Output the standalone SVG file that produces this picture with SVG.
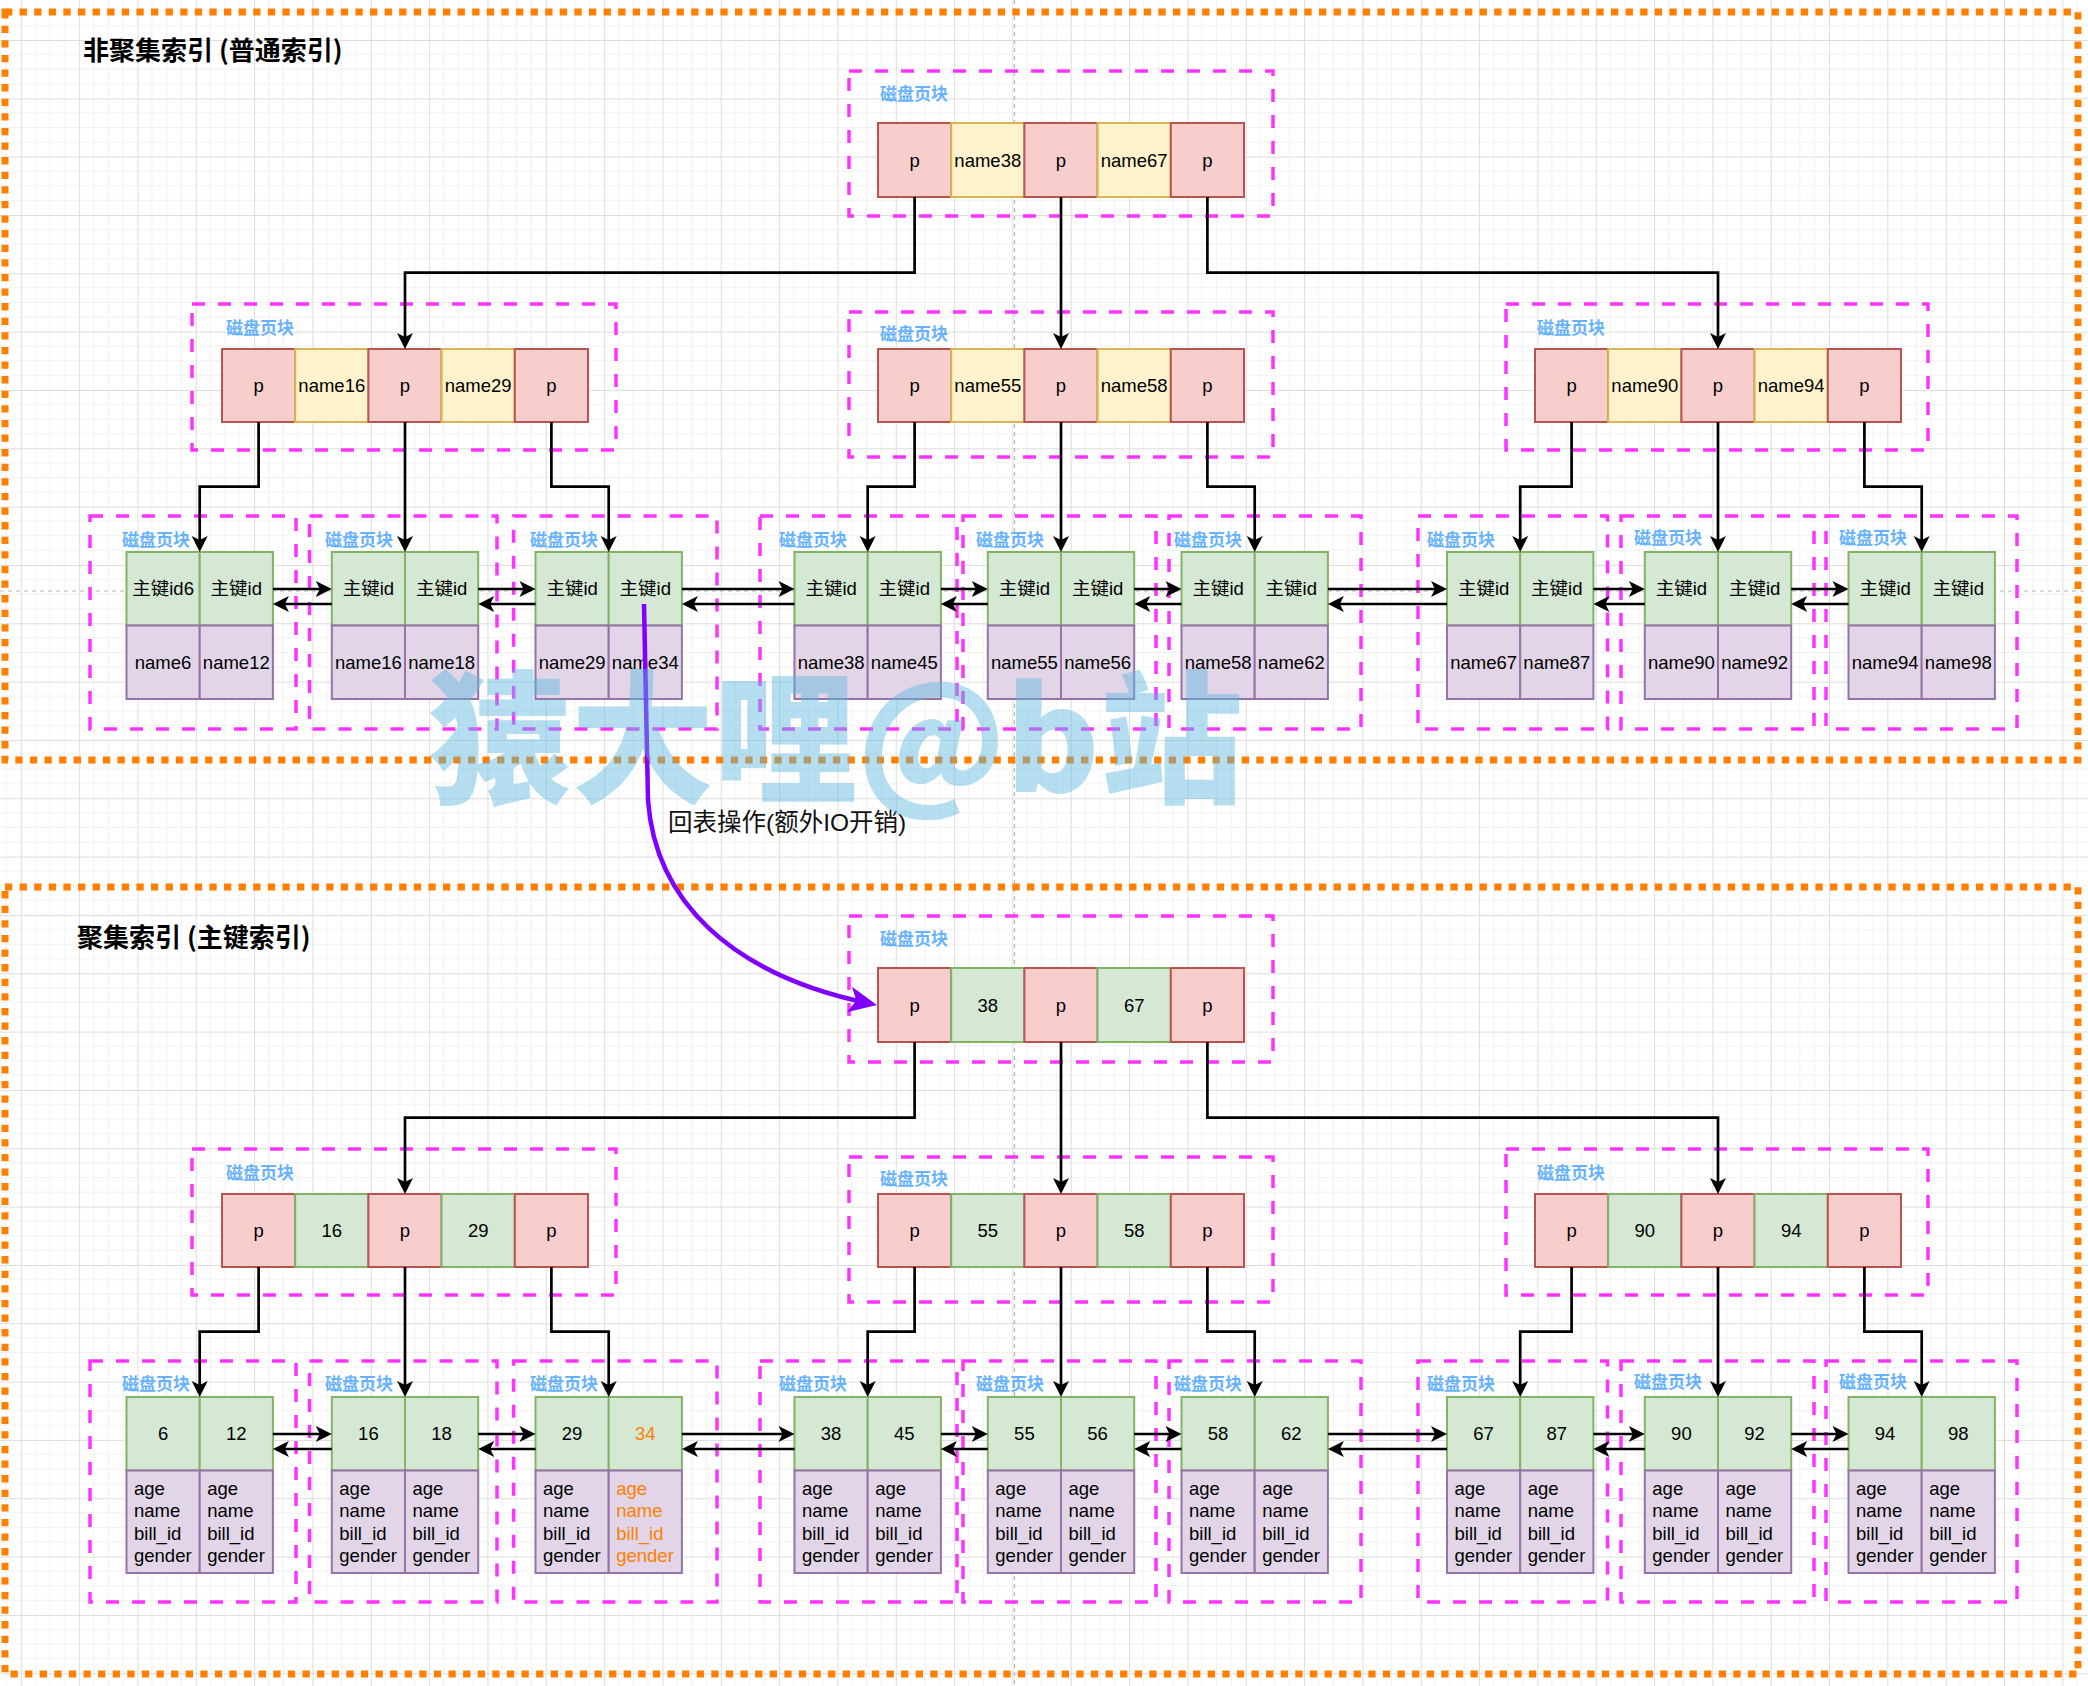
<svg xmlns="http://www.w3.org/2000/svg" width="2088" height="1686" viewBox="0 0 2088 1686">
<style>
.r{fill:#f8cecc;stroke:#b85450;stroke-width:2}
.y{fill:#fff2cc;stroke:#d6b656;stroke-width:2}
.g{fill:#d5e8d4;stroke:#82b366;stroke-width:2}
.v{fill:#e1d5e7;stroke:#9673a6;stroke-width:2}
.box{fill:none;stroke:#FF33FF;stroke-width:3.5;stroke-dasharray:13 13}
.lbl{font-family:"Noto Sans CJK SC","Liberation Sans",sans-serif;font-size:17px;font-weight:bold;fill:#66B2FF}
.t{font-family:"Liberation Sans","Noto Sans CJK SC",sans-serif;font-size:18.5px;fill:#000;text-anchor:middle}
.tl{font-family:"Liberation Sans","Noto Sans CJK SC",sans-serif;font-size:18.5px;fill:#000}
.or{fill:#FF8000}
.c{fill:none;stroke:#000;stroke-width:2.7;marker-end:url(#ah)}
.frame{fill:none;stroke:#FF8000;stroke-width:7;stroke-dasharray:7.3 7.3}
.title{font-family:"Noto Sans CJK SC","Liberation Sans",sans-serif;font-size:26px;font-weight:bold;fill:#000}
.pb{stroke:#b5b5b5;stroke-width:1.2;stroke-dasharray:4 4;fill:none}
</style>
<defs>
<pattern id="grid" patternUnits="userSpaceOnUse" x="20.8" y="40" width="58.33" height="58.33">
<path d="M14.58 0V58.33M29.17 0V58.33M43.75 0V58.33M0 14.58H58.33M0 29.17H58.33M0 43.75H58.33" stroke="#f1f1f1" stroke-width="1"/>
<path d="M0.5 0V58.33M0 0.5H58.33" stroke="#dddddd" stroke-width="1"/>
</pattern>
<marker id="ah" markerUnits="userSpaceOnUse" viewBox="-17 -9 18 18" markerWidth="18" markerHeight="18" refX="-4" refY="0" orient="auto">
<path d="M0,0 L-16,-8 L-12,0 L-16,8 Z" fill="#000"/>
</marker>
<marker id="ahp" markerUnits="userSpaceOnUse" viewBox="-30 -15 32 30" markerWidth="32" markerHeight="30" refX="-6" refY="0" orient="auto">
<path d="M0,0 L-28,-13 L-21,0 L-28,13 Z" fill="#7F00FF"/>
</marker>
</defs>

<rect width="2088" height="1686" fill="#ffffff"/>
<rect width="2088" height="1686" fill="url(#grid)"/>
<path class="pb" d="M1014.5 0V1686M0 591H2088"/>

<rect class="frame" x="5" y="12" width="2073" height="748"/>
<rect class="frame" x="5" y="887" width="2073" height="787"/>
<text class="title" x="83" y="60">非聚集索引 (普通索引)</text>
<text class="title" x="77" y="947">聚集索引 (主键索引)</text>

<!-- ============ Non-clustered index ============ -->
<g id="nc-root" transform="translate(878 123)">
<rect class="box" x="-29" y="-52" width="424" height="145"/>
<text class="lbl" x="2" y="-23.5">磁盘页块</text>
<rect class="r" x="0" y="0" width="73.2" height="74"/>
<rect class="y" x="73.2" y="0" width="73.2" height="74"/>
<rect class="r" x="146.4" y="0" width="73.2" height="74"/>
<rect class="y" x="219.6" y="0" width="73.2" height="74"/>
<rect class="r" x="292.8" y="0" width="73.2" height="74"/>
<text class="t" x="36.6" y="43.5">p</text>
<text class="t" x="109.8" y="43.5">name38</text>
<text class="t" x="183" y="43.5">p</text>
<text class="t" x="256.2" y="43.5">name67</text>
<text class="t" x="329.4" y="43.5">p</text>
</g>

<g id="nc-l2-left" transform="translate(222 349)">
<rect class="box" x="-30" y="-45" width="424" height="146"/>
<text class="lbl" x="4" y="-15.5">磁盘页块</text>
<rect class="r" x="0" y="0" width="73.2" height="73"/>
<rect class="y" x="73.2" y="0" width="73.2" height="73"/>
<rect class="r" x="146.4" y="0" width="73.2" height="73"/>
<rect class="y" x="219.6" y="0" width="73.2" height="73"/>
<rect class="r" x="292.8" y="0" width="73.2" height="73"/>
<text class="t" x="36.6" y="43">p</text>
<text class="t" x="109.8" y="43">name16</text>
<text class="t" x="183" y="43">p</text>
<text class="t" x="256.2" y="43">name29</text>
<text class="t" x="329.4" y="43">p</text>
</g>

<g id="nc-l2-mid" transform="translate(878 349)">
<rect class="box" x="-29" y="-37" width="424" height="145"/>
<text class="lbl" x="2" y="-9.5">磁盘页块</text>
<rect class="r" x="0" y="0" width="73.2" height="73"/>
<rect class="y" x="73.2" y="0" width="73.2" height="73"/>
<rect class="r" x="146.4" y="0" width="73.2" height="73"/>
<rect class="y" x="219.6" y="0" width="73.2" height="73"/>
<rect class="r" x="292.8" y="0" width="73.2" height="73"/>
<text class="t" x="36.6" y="43">p</text>
<text class="t" x="109.8" y="43">name55</text>
<text class="t" x="183" y="43">p</text>
<text class="t" x="256.2" y="43">name58</text>
<text class="t" x="329.4" y="43">p</text>
</g>

<g id="nc-l2-right" transform="translate(1535 349)">
<rect class="box" x="-29" y="-45" width="422" height="146"/>
<text class="lbl" x="2" y="-15.5">磁盘页块</text>
<rect class="r" x="0" y="0" width="73.2" height="73"/>
<rect class="y" x="73.2" y="0" width="73.2" height="73"/>
<rect class="r" x="146.4" y="0" width="73.2" height="73"/>
<rect class="y" x="219.6" y="0" width="73.2" height="73"/>
<rect class="r" x="292.8" y="0" width="73.2" height="73"/>
<text class="t" x="36.6" y="43">p</text>
<text class="t" x="109.8" y="43">name90</text>
<text class="t" x="183" y="43">p</text>
<text class="t" x="256.2" y="43">name94</text>
<text class="t" x="329.4" y="43">p</text>
</g>

<g id="nc-leaf1" transform="translate(126.5 552)">
<rect class="box" x="-36.5" y="-36" width="206" height="213"/>
<text class="lbl" x="-4.5" y="-6.5">磁盘页块</text>
<rect class="g" x="0" y="0" width="73.2" height="73.5"/><rect class="g" x="73.2" y="0" width="73.2" height="73.5"/>
<rect class="v" x="0" y="73.5" width="73.2" height="73.5"/><rect class="v" x="73.2" y="73.5" width="73.2" height="73.5"/>
<text class="t" x="36.6" y="43.3">主键id6</text><text class="t" x="109.8" y="43.3">主键id</text>
<text class="t" x="36.6" y="116.8">name6</text><text class="t" x="109.8" y="116.8">name12</text>
</g>
<g id="nc-leaf2" transform="translate(331.8 552)">
<rect class="box" x="-22.3" y="-36" width="187.5" height="213"/>
<text class="lbl" x="-6.8" y="-6.5">磁盘页块</text>
<rect class="g" x="0" y="0" width="73.2" height="73.5"/><rect class="g" x="73.2" y="0" width="73.2" height="73.5"/>
<rect class="v" x="0" y="73.5" width="73.2" height="73.5"/><rect class="v" x="73.2" y="73.5" width="73.2" height="73.5"/>
<text class="t" x="36.6" y="43.3">主键id</text><text class="t" x="109.8" y="43.3">主键id</text>
<text class="t" x="36.6" y="116.8">name16</text><text class="t" x="109.8" y="116.8">name18</text>
</g>
<g id="nc-leaf3" transform="translate(535.5 552)">
<rect class="box" x="-21.9" y="-36" width="203.4" height="213"/>
<text class="lbl" x="-5.5" y="-6.5">磁盘页块</text>
<rect class="g" x="0" y="0" width="73.2" height="73.5"/><rect class="g" x="73.2" y="0" width="73.2" height="73.5"/>
<rect class="v" x="0" y="73.5" width="73.2" height="73.5"/><rect class="v" x="73.2" y="73.5" width="73.2" height="73.5"/>
<text class="t" x="36.6" y="43.3">主键id</text><text class="t" x="109.8" y="43.3">主键id</text>
<text class="t" x="36.6" y="116.8">name29</text><text class="t" x="109.8" y="116.8">name34</text>
</g>
<g id="nc-leaf4" transform="translate(794.5 552)">
<rect class="box" x="-34.5" y="-36" width="197" height="213"/>
<text class="lbl" x="-15.5" y="-6.5">磁盘页块</text>
<rect class="g" x="0" y="0" width="73.2" height="73.5"/><rect class="g" x="73.2" y="0" width="73.2" height="73.5"/>
<rect class="v" x="0" y="73.5" width="73.2" height="73.5"/><rect class="v" x="73.2" y="73.5" width="73.2" height="73.5"/>
<text class="t" x="36.6" y="43.3">主键id</text><text class="t" x="109.8" y="43.3">主键id</text>
<text class="t" x="36.6" y="116.8">name38</text><text class="t" x="109.8" y="116.8">name45</text>
</g>
<g id="nc-leaf5" transform="translate(987.8 552)">
<rect class="box" x="-24.8" y="-36" width="193" height="213"/>
<text class="lbl" x="-11.8" y="-6.5">磁盘页块</text>
<rect class="g" x="0" y="0" width="73.2" height="73.5"/><rect class="g" x="73.2" y="0" width="73.2" height="73.5"/>
<rect class="v" x="0" y="73.5" width="73.2" height="73.5"/><rect class="v" x="73.2" y="73.5" width="73.2" height="73.5"/>
<text class="t" x="36.6" y="43.3">主键id</text><text class="t" x="109.8" y="43.3">主键id</text>
<text class="t" x="36.6" y="116.8">name55</text><text class="t" x="109.8" y="116.8">name56</text>
</g>
<g id="nc-leaf6" transform="translate(1181.5 552)">
<rect class="box" x="-12.5" y="-36" width="192" height="213"/>
<text class="lbl" x="-7.5" y="-6.5">磁盘页块</text>
<rect class="g" x="0" y="0" width="73.2" height="73.5"/><rect class="g" x="73.2" y="0" width="73.2" height="73.5"/>
<rect class="v" x="0" y="73.5" width="73.2" height="73.5"/><rect class="v" x="73.2" y="73.5" width="73.2" height="73.5"/>
<text class="t" x="36.6" y="43.3">主键id</text><text class="t" x="109.8" y="43.3">主键id</text>
<text class="t" x="36.6" y="116.8">name58</text><text class="t" x="109.8" y="116.8">name62</text>
</g>
<g id="nc-leaf7" transform="translate(1447 552)">
<rect class="box" x="-29" y="-36" width="189.5" height="213"/>
<text class="lbl" x="-20" y="-6.5">磁盘页块</text>
<rect class="g" x="0" y="0" width="73.2" height="73.5"/><rect class="g" x="73.2" y="0" width="73.2" height="73.5"/>
<rect class="v" x="0" y="73.5" width="73.2" height="73.5"/><rect class="v" x="73.2" y="73.5" width="73.2" height="73.5"/>
<text class="t" x="36.6" y="43.3">主键id</text><text class="t" x="109.8" y="43.3">主键id</text>
<text class="t" x="36.6" y="116.8">name67</text><text class="t" x="109.8" y="116.8">name87</text>
</g>
<g id="nc-leaf8" transform="translate(1644.8 552)">
<rect class="box" x="-23.8" y="-36" width="193" height="213"/>
<text class="lbl" x="-10.8" y="-8">磁盘页块</text>
<rect class="g" x="0" y="0" width="73.2" height="73.5"/><rect class="g" x="73.2" y="0" width="73.2" height="73.5"/>
<rect class="v" x="0" y="73.5" width="73.2" height="73.5"/><rect class="v" x="73.2" y="73.5" width="73.2" height="73.5"/>
<text class="t" x="36.6" y="43.3">主键id</text><text class="t" x="109.8" y="43.3">主键id</text>
<text class="t" x="36.6" y="116.8">name90</text><text class="t" x="109.8" y="116.8">name92</text>
</g>
<g id="nc-leaf9" transform="translate(1848.5 552)">
<rect class="box" x="-22.5" y="-36" width="191" height="213"/>
<text class="lbl" x="-9.5" y="-8">磁盘页块</text>
<rect class="g" x="0" y="0" width="73.2" height="73.5"/><rect class="g" x="73.2" y="0" width="73.2" height="73.5"/>
<rect class="v" x="0" y="73.5" width="73.2" height="73.5"/><rect class="v" x="73.2" y="73.5" width="73.2" height="73.5"/>
<text class="t" x="36.6" y="43.3">主键id</text><text class="t" x="109.8" y="43.3">主键id</text>
<text class="t" x="36.6" y="116.8">name94</text><text class="t" x="109.8" y="116.8">name98</text>
</g>

<!-- ============ Clustered index ============ -->
<g id="c-root" transform="translate(878 968)">
<rect class="box" x="-29" y="-52" width="424" height="146"/>
<text class="lbl" x="2" y="-23.5">磁盘页块</text>
<rect class="r" x="0" y="0" width="73.2" height="74"/>
<rect class="g" x="73.2" y="0" width="73.2" height="74"/>
<rect class="r" x="146.4" y="0" width="73.2" height="74"/>
<rect class="g" x="219.6" y="0" width="73.2" height="74"/>
<rect class="r" x="292.8" y="0" width="73.2" height="74"/>
<text class="t" x="36.6" y="43.5">p</text>
<text class="t" x="109.8" y="43.5">38</text>
<text class="t" x="183" y="43.5">p</text>
<text class="t" x="256.2" y="43.5">67</text>
<text class="t" x="329.4" y="43.5">p</text>
</g>

<g id="c-l2-left" transform="translate(222 1194)">
<rect class="box" x="-30" y="-45" width="424" height="146"/>
<text class="lbl" x="4" y="-15.5">磁盘页块</text>
<rect class="r" x="0" y="0" width="73.2" height="73"/>
<rect class="g" x="73.2" y="0" width="73.2" height="73"/>
<rect class="r" x="146.4" y="0" width="73.2" height="73"/>
<rect class="g" x="219.6" y="0" width="73.2" height="73"/>
<rect class="r" x="292.8" y="0" width="73.2" height="73"/>
<text class="t" x="36.6" y="43">p</text>
<text class="t" x="109.8" y="43">16</text>
<text class="t" x="183" y="43">p</text>
<text class="t" x="256.2" y="43">29</text>
<text class="t" x="329.4" y="43">p</text>
</g>

<g id="c-l2-mid" transform="translate(878 1194)">
<rect class="box" x="-29" y="-37" width="424" height="145"/>
<text class="lbl" x="2" y="-9.5">磁盘页块</text>
<rect class="r" x="0" y="0" width="73.2" height="73"/>
<rect class="g" x="73.2" y="0" width="73.2" height="73"/>
<rect class="r" x="146.4" y="0" width="73.2" height="73"/>
<rect class="g" x="219.6" y="0" width="73.2" height="73"/>
<rect class="r" x="292.8" y="0" width="73.2" height="73"/>
<text class="t" x="36.6" y="43">p</text>
<text class="t" x="109.8" y="43">55</text>
<text class="t" x="183" y="43">p</text>
<text class="t" x="256.2" y="43">58</text>
<text class="t" x="329.4" y="43">p</text>
</g>

<g id="c-l2-right" transform="translate(1535 1194)">
<rect class="box" x="-29" y="-45" width="422" height="146"/>
<text class="lbl" x="2" y="-15.5">磁盘页块</text>
<rect class="r" x="0" y="0" width="73.2" height="73"/>
<rect class="g" x="73.2" y="0" width="73.2" height="73"/>
<rect class="r" x="146.4" y="0" width="73.2" height="73"/>
<rect class="g" x="219.6" y="0" width="73.2" height="73"/>
<rect class="r" x="292.8" y="0" width="73.2" height="73"/>
<text class="t" x="36.6" y="43">p</text>
<text class="t" x="109.8" y="43">90</text>
<text class="t" x="183" y="43">p</text>
<text class="t" x="256.2" y="43">94</text>
<text class="t" x="329.4" y="43">p</text>
</g>

<g id="c-leaf1" transform="translate(126.5 1397)">
<rect class="box" x="-36.5" y="-36" width="206" height="241"/>
<text class="lbl" x="-4.5" y="-7.5">磁盘页块</text>
<rect class="g" x="0" y="0" width="73.2" height="73.5"/><rect class="g" x="73.2" y="0" width="73.2" height="73.5"/>
<rect class="v" x="0" y="73.5" width="73.2" height="102.5"/><rect class="v" x="73.2" y="73.5" width="73.2" height="102.5"/>
<text class="t" x="36.6" y="43.3">6</text><text class="t" x="109.8" y="43.3">12</text>
<text class="tl" y="98"><tspan x="7.5">age</tspan><tspan x="7.5" dy="22.3">name</tspan><tspan x="7.5" dy="22.3">bill_id</tspan><tspan x="7.5" dy="22.3">gender</tspan></text>
<text class="tl" y="98"><tspan x="80.7">age</tspan><tspan x="80.7" dy="22.3">name</tspan><tspan x="80.7" dy="22.3">bill_id</tspan><tspan x="80.7" dy="22.3">gender</tspan></text>
</g>
<g id="c-leaf2" transform="translate(331.8 1397)">
<rect class="box" x="-22.3" y="-36" width="187.5" height="241"/>
<text class="lbl" x="-6.8" y="-7.5">磁盘页块</text>
<rect class="g" x="0" y="0" width="73.2" height="73.5"/><rect class="g" x="73.2" y="0" width="73.2" height="73.5"/>
<rect class="v" x="0" y="73.5" width="73.2" height="102.5"/><rect class="v" x="73.2" y="73.5" width="73.2" height="102.5"/>
<text class="t" x="36.6" y="43.3">16</text><text class="t" x="109.8" y="43.3">18</text>
<text class="tl" y="98"><tspan x="7.5">age</tspan><tspan x="7.5" dy="22.3">name</tspan><tspan x="7.5" dy="22.3">bill_id</tspan><tspan x="7.5" dy="22.3">gender</tspan></text>
<text class="tl" y="98"><tspan x="80.7">age</tspan><tspan x="80.7" dy="22.3">name</tspan><tspan x="80.7" dy="22.3">bill_id</tspan><tspan x="80.7" dy="22.3">gender</tspan></text>
</g>
<g id="c-leaf3" transform="translate(535.5 1397)">
<rect class="box" x="-21.9" y="-36" width="203.4" height="241"/>
<text class="lbl" x="-5.5" y="-7.5">磁盘页块</text>
<rect class="g" x="0" y="0" width="73.2" height="73.5"/><rect class="g" x="73.2" y="0" width="73.2" height="73.5"/>
<rect class="v" x="0" y="73.5" width="73.2" height="102.5"/><rect class="v" x="73.2" y="73.5" width="73.2" height="102.5"/>
<text class="t" x="36.6" y="43.3">29</text><text class="t or" x="109.8" y="43.3">34</text>
<text class="tl" y="98"><tspan x="7.5">age</tspan><tspan x="7.5" dy="22.3">name</tspan><tspan x="7.5" dy="22.3">bill_id</tspan><tspan x="7.5" dy="22.3">gender</tspan></text>
<text class="tl or" y="98"><tspan x="80.7">age</tspan><tspan x="80.7" dy="22.3">name</tspan><tspan x="80.7" dy="22.3">bill_id</tspan><tspan x="80.7" dy="22.3">gender</tspan></text>
</g>
<g id="c-leaf4" transform="translate(794.5 1397)">
<rect class="box" x="-34.5" y="-36" width="197" height="241"/>
<text class="lbl" x="-15.5" y="-7.5">磁盘页块</text>
<rect class="g" x="0" y="0" width="73.2" height="73.5"/><rect class="g" x="73.2" y="0" width="73.2" height="73.5"/>
<rect class="v" x="0" y="73.5" width="73.2" height="102.5"/><rect class="v" x="73.2" y="73.5" width="73.2" height="102.5"/>
<text class="t" x="36.6" y="43.3">38</text><text class="t" x="109.8" y="43.3">45</text>
<text class="tl" y="98"><tspan x="7.5">age</tspan><tspan x="7.5" dy="22.3">name</tspan><tspan x="7.5" dy="22.3">bill_id</tspan><tspan x="7.5" dy="22.3">gender</tspan></text>
<text class="tl" y="98"><tspan x="80.7">age</tspan><tspan x="80.7" dy="22.3">name</tspan><tspan x="80.7" dy="22.3">bill_id</tspan><tspan x="80.7" dy="22.3">gender</tspan></text>
</g>
<g id="c-leaf5" transform="translate(987.8 1397)">
<rect class="box" x="-24.8" y="-36" width="193" height="241"/>
<text class="lbl" x="-11.8" y="-7.5">磁盘页块</text>
<rect class="g" x="0" y="0" width="73.2" height="73.5"/><rect class="g" x="73.2" y="0" width="73.2" height="73.5"/>
<rect class="v" x="0" y="73.5" width="73.2" height="102.5"/><rect class="v" x="73.2" y="73.5" width="73.2" height="102.5"/>
<text class="t" x="36.6" y="43.3">55</text><text class="t" x="109.8" y="43.3">56</text>
<text class="tl" y="98"><tspan x="7.5">age</tspan><tspan x="7.5" dy="22.3">name</tspan><tspan x="7.5" dy="22.3">bill_id</tspan><tspan x="7.5" dy="22.3">gender</tspan></text>
<text class="tl" y="98"><tspan x="80.7">age</tspan><tspan x="80.7" dy="22.3">name</tspan><tspan x="80.7" dy="22.3">bill_id</tspan><tspan x="80.7" dy="22.3">gender</tspan></text>
</g>
<g id="c-leaf6" transform="translate(1181.5 1397)">
<rect class="box" x="-12.5" y="-36" width="192" height="241"/>
<text class="lbl" x="-7.5" y="-7.5">磁盘页块</text>
<rect class="g" x="0" y="0" width="73.2" height="73.5"/><rect class="g" x="73.2" y="0" width="73.2" height="73.5"/>
<rect class="v" x="0" y="73.5" width="73.2" height="102.5"/><rect class="v" x="73.2" y="73.5" width="73.2" height="102.5"/>
<text class="t" x="36.6" y="43.3">58</text><text class="t" x="109.8" y="43.3">62</text>
<text class="tl" y="98"><tspan x="7.5">age</tspan><tspan x="7.5" dy="22.3">name</tspan><tspan x="7.5" dy="22.3">bill_id</tspan><tspan x="7.5" dy="22.3">gender</tspan></text>
<text class="tl" y="98"><tspan x="80.7">age</tspan><tspan x="80.7" dy="22.3">name</tspan><tspan x="80.7" dy="22.3">bill_id</tspan><tspan x="80.7" dy="22.3">gender</tspan></text>
</g>
<g id="c-leaf7" transform="translate(1447 1397)">
<rect class="box" x="-29" y="-36" width="189.5" height="241"/>
<text class="lbl" x="-20" y="-7.5">磁盘页块</text>
<rect class="g" x="0" y="0" width="73.2" height="73.5"/><rect class="g" x="73.2" y="0" width="73.2" height="73.5"/>
<rect class="v" x="0" y="73.5" width="73.2" height="102.5"/><rect class="v" x="73.2" y="73.5" width="73.2" height="102.5"/>
<text class="t" x="36.6" y="43.3">67</text><text class="t" x="109.8" y="43.3">87</text>
<text class="tl" y="98"><tspan x="7.5">age</tspan><tspan x="7.5" dy="22.3">name</tspan><tspan x="7.5" dy="22.3">bill_id</tspan><tspan x="7.5" dy="22.3">gender</tspan></text>
<text class="tl" y="98"><tspan x="80.7">age</tspan><tspan x="80.7" dy="22.3">name</tspan><tspan x="80.7" dy="22.3">bill_id</tspan><tspan x="80.7" dy="22.3">gender</tspan></text>
</g>
<g id="c-leaf8" transform="translate(1644.8 1397)">
<rect class="box" x="-23.8" y="-36" width="193" height="241"/>
<text class="lbl" x="-10.8" y="-9">磁盘页块</text>
<rect class="g" x="0" y="0" width="73.2" height="73.5"/><rect class="g" x="73.2" y="0" width="73.2" height="73.5"/>
<rect class="v" x="0" y="73.5" width="73.2" height="102.5"/><rect class="v" x="73.2" y="73.5" width="73.2" height="102.5"/>
<text class="t" x="36.6" y="43.3">90</text><text class="t" x="109.8" y="43.3">92</text>
<text class="tl" y="98"><tspan x="7.5">age</tspan><tspan x="7.5" dy="22.3">name</tspan><tspan x="7.5" dy="22.3">bill_id</tspan><tspan x="7.5" dy="22.3">gender</tspan></text>
<text class="tl" y="98"><tspan x="80.7">age</tspan><tspan x="80.7" dy="22.3">name</tspan><tspan x="80.7" dy="22.3">bill_id</tspan><tspan x="80.7" dy="22.3">gender</tspan></text>
</g>
<g id="c-leaf9" transform="translate(1848.5 1397)">
<rect class="box" x="-22.5" y="-36" width="191" height="241"/>
<text class="lbl" x="-9.5" y="-9">磁盘页块</text>
<rect class="g" x="0" y="0" width="73.2" height="73.5"/><rect class="g" x="73.2" y="0" width="73.2" height="73.5"/>
<rect class="v" x="0" y="73.5" width="73.2" height="102.5"/><rect class="v" x="73.2" y="73.5" width="73.2" height="102.5"/>
<text class="t" x="36.6" y="43.3">94</text><text class="t" x="109.8" y="43.3">98</text>
<text class="tl" y="98"><tspan x="7.5">age</tspan><tspan x="7.5" dy="22.3">name</tspan><tspan x="7.5" dy="22.3">bill_id</tspan><tspan x="7.5" dy="22.3">gender</tspan></text>
<text class="tl" y="98"><tspan x="80.7">age</tspan><tspan x="80.7" dy="22.3">name</tspan><tspan x="80.7" dy="22.3">bill_id</tspan><tspan x="80.7" dy="22.3">gender</tspan></text>
</g>

<!-- ============ Connectors ============ -->
<g id="connectors">
<path class="c" d="M914.6 197V272.7H405V345"/>
<path class="c" d="M1061 197V345"/>
<path class="c" d="M1207.4 197V272.7H1718V345"/>
<path class="c" d="M258.6 422V486.7H199.7V548"/>
<path class="c" d="M405 422V548"/>
<path class="c" d="M551.4 422V486.7H608.7V548"/>
<path class="c" d="M914.6 422V486.7H867.7V548"/>
<path class="c" d="M1061 422V548"/>
<path class="c" d="M1207.4 422V486.7H1254.7V548"/>
<path class="c" d="M1571.6 422V486.7H1520.2V548"/>
<path class="c" d="M1718 422V548"/>
<path class="c" d="M1864.4 422V486.7H1921.7V548"/>
<path class="c" d="M272.9 589H327.8"/><path class="c" d="M331.8 604H276.9"/>
<path class="c" d="M478.2 589H531.5"/><path class="c" d="M535.5 604H482.2"/>
<path class="c" d="M681.9 589H790.5"/><path class="c" d="M794.5 604H685.9"/>
<path class="c" d="M940.9 589H983.8"/><path class="c" d="M987.8 604H944.9"/>
<path class="c" d="M1134.2 589H1177.5"/><path class="c" d="M1181.5 604H1138.2"/>
<path class="c" d="M1327.9 589H1443"/><path class="c" d="M1447 604H1331.9"/>
<path class="c" d="M1593.4 589H1640.8"/><path class="c" d="M1644.8 604H1597.4"/>
<path class="c" d="M1791.2 589H1844.5"/><path class="c" d="M1848.5 604H1795.2"/>

<path class="c" d="M914.6 1042V1117.7H405V1190"/>
<path class="c" d="M1061 1042V1190"/>
<path class="c" d="M1207.4 1042V1117.7H1718V1190"/>
<path class="c" d="M258.6 1267V1331.7H199.7V1393"/>
<path class="c" d="M405 1267V1393"/>
<path class="c" d="M551.4 1267V1331.7H608.7V1393"/>
<path class="c" d="M914.6 1267V1331.7H867.7V1393"/>
<path class="c" d="M1061 1267V1393"/>
<path class="c" d="M1207.4 1267V1331.7H1254.7V1393"/>
<path class="c" d="M1571.6 1267V1331.7H1520.2V1393"/>
<path class="c" d="M1718 1267V1393"/>
<path class="c" d="M1864.4 1267V1331.7H1921.7V1393"/>
<path class="c" d="M272.9 1434H327.8"/><path class="c" d="M331.8 1449H276.9"/>
<path class="c" d="M478.2 1434H531.5"/><path class="c" d="M535.5 1449H482.2"/>
<path class="c" d="M681.9 1434H790.5"/><path class="c" d="M794.5 1449H685.9"/>
<path class="c" d="M940.9 1434H983.8"/><path class="c" d="M987.8 1449H944.9"/>
<path class="c" d="M1134.2 1434H1177.5"/><path class="c" d="M1181.5 1449H1138.2"/>
<path class="c" d="M1327.9 1434H1443"/><path class="c" d="M1447 1449H1331.9"/>
<path class="c" d="M1593.4 1434H1640.8"/><path class="c" d="M1644.8 1449H1597.4"/>
<path class="c" d="M1791.2 1434H1844.5"/><path class="c" d="M1848.5 1449H1795.2"/>

<path d="M644 604L648 800C655 900 730 975 871 1003.8" fill="none" stroke="#7F00FF" stroke-width="4.5" marker-end="url(#ahp)"/>
<text x="668" y="831" font-family="'Liberation Sans','Noto Sans CJK SC',sans-serif" font-size="24.5" fill="#111">回表操作(额外IO开销)</text>
</g>

<text x="428" y="792" font-family="'Noto Sans CJK SC',sans-serif" font-size="143" font-weight="900" fill="#5DB8E0" opacity="0.45">猿大哩@b站</text>
</svg>
